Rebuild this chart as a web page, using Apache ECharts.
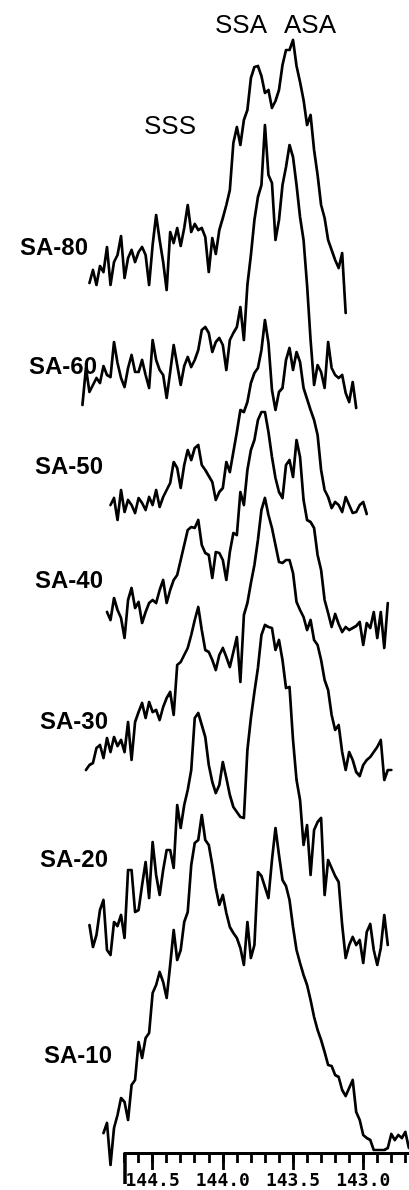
<!DOCTYPE html>
<html>
<head>
<meta charset="utf-8">
<title>13C NMR methyl region, SA series</title>
<script src="https://cdn.jsdelivr.net/npm/echarts/dist/echarts.min.js"></script>
<style>
  html, body { margin: 0; padding: 0; background: #fff; }
  #chart { width: 409px; height: 1190px; }
</style>
</head>
<body>
<div id="chart"></div>
<script>
// Chemical-shift sampling grid (ppm), shared by every spectrum
const PPM = [
  145.000,144.975,144.950,144.925,144.900,144.875,144.850,144.825,144.800,144.775,
  144.750,144.725,144.700,144.675,144.650,144.625,144.600,144.575,144.550,144.525,
  144.500,144.475,144.450,144.425,144.400,144.375,144.350,144.325,144.300,144.275,
  144.250,144.225,144.200,144.175,144.150,144.125,144.100,144.075,144.050,144.025,
  144.000,143.975,143.950,143.925,143.900,143.875,143.850,143.825,143.800,143.775,
  143.750,143.725,143.700,143.675,143.650,143.625,143.600,143.575,143.550,143.525,
  143.500,143.475,143.450,143.425,143.400,143.375,143.350,143.325,143.300,143.275,
  143.250,143.225,143.200,143.175,143.150,143.125,143.100,143.075,143.050,143.025,
  143.000,142.975,142.950,142.925,142.900,142.875,142.850,142.825,142.800,142.775,
  142.750,142.725,142.700,142.675,142.650
];

// Sample names, top to bottom
const SAMPLES = ['SA-80', 'SA-60', 'SA-50', 'SA-40', 'SA-30', 'SA-20', 'SA-10'];

// Index into PPM where each recorded spectrum begins
const START = [2, 0, 8, 7, 1, 2, 6];

// Intensities (arbitrary units, relative to each spectrum's own baseline)
const SA80 = [
  7,20,5,24,18,43,5,28,35,54,
  12,32,40,28,38,43,35,5,45,75,
  50,28,0,58,47,62,44,62,85,58,
  66,60,62,53,18,52,36,60,72,85,
  100,147,163,145,170,180,212,223,224,214,
  197,200,182,189,200,225,240,240,250,224,
  208,190,165,175,140,115,85,72,50,40,
  30,22,37,-23
];
const SA60 = [
  -20,17,-7,0,7,2,19,10,8,43,
  22,7,-2,17,30,13,13,25,10,-3,
  45,25,15,10,-13,13,40,20,0,19,
  28,18,25,35,55,58,52,33,43,47,
  40,15,45,52,58,78,45,100,130,165,
  188,200,260,210,202,145,165,200,218,240,
  228,200,168,145,100,45,0,20,13,-3,
  43,17,10,7,10,-8,-17,3,-23
];
const SA50 = [
  7,14,-8,22,0,12,7,-1,14,9,
  2,15,7,22,5,15,22,29,50,44,
  24,47,62,52,64,67,47,42,36,30,
  12,20,24,50,40,60,80,102,100,110,
  129,139,144,162,192,169,122,102,120,124,
  152,164,142,160,150,124,113,102,92,77,
  42,22,15,4,10,7,0,15,7,-1,
  0,7,10,-2
];
const SA40 = [
  13,5,27,15,7,-13,25,37,17,23,
  2,13,22,25,22,35,45,22,35,45,
  50,65,80,95,98,97,105,80,72,70,
  47,73,72,65,45,73,92,90,133,120,
  155,175,185,205,213,213,193,168,147,133,
  127,160,165,148,185,168,125,105,103,97,
  70,55,25,12,-2,11,1,-7,-2,-5,
  -3,-1,3,-20,2,-3,13,-13,13,-23,
  22
];
const SA30 = [
  -5,0,2,17,20,7,27,13,28,19,
  25,13,43,5,43,53,62,47,63,53,
  55,45,58,67,73,50,100,103,110,117,
  130,145,158,135,115,113,105,95,110,117,
  108,98,113,128,83,150,162,182,200,225,
  255,267,250,237,220,203,202,205,205,192,
  163,155,148,135,145,125,120,105,85,75,
  50,35,40,13,-5,13,5,-7,-11,0,
  5,8,13,18,25,-15,-5,-5
];
const SA20 = [
  15,-7,5,30,40,-10,-15,18,14,25,
  2,70,70,28,30,55,78,42,98,65,
  45,70,90,90,72,135,112,135,150,170,
  222,227,215,203,175,158,147,155,178,162,
  145,133,128,123,122,190,222,248,272,305,
  315,313,312,290,300,280,252,253,200,160,
  140,95,115,65,110,118,122,45,80,72,
  64,58,15,-18,-5,3,-5,0,-23,8,
  16,-10,-25,-8,25,-5
];
const SA10 = [
  12,22,-20,17,30,47,43,25,60,65,
  103,87,107,112,152,160,173,163,147,180,
  215,185,195,223,233,280,302,305,330,305,
  300,280,257,240,250,232,218,212,207,197,
  180,223,187,200,273,269,258,247,285,317,
  290,265,259,245,218,195,182,170,160,145,
  128,115,105,93,80,79,70,68,55,49,
  57,65,33,25,10,7,5,-5,-5,-5,
  -5,-3,11,5,10,7,13,-3
];

// Ruler: minor graduations every 0.1 ppm, numbered every 0.5 ppm
const MINOR_TICKS = [144.7,144.6,144.5,144.4,144.3,144.2,144.1,144.0,143.9,143.8,143.7,
                     143.6,143.5,143.4,143.3,143.2,143.1,143.0,142.9,142.8,142.7];
const TICK_VALUES = [144.5, 144.0, 143.5, 143.0];
const TICK_LABELS = ['144.5', '144.0', '143.5', '143.0'];
const RULER_END = [144.7];
const PEAK_LABELS = ['SSS', 'SSA', 'ASA'];

// ---- layout (stack offsets, label placement, shared ppm scale) ----
const TRACES = [SA80, SA60, SA50, SA40, SA30, SA20, SA10];
const STACK_OFFSET = [863, 768, 641, 528, 388, 213, 8];
const SAMPLE_LABEL_POS = [[88, 248], [97, 367], [103, 467], [103, 581], [108, 722], [108, 860], [112, 1056]];
const PEAK_LABEL_POS = [[170, 127], [241, 26], [310, 26]];
const W = 409, PX_PER_PPM = 140.4;
const X_RIGHT = 142.674;          // shift at the right edge of the page
const RULER_LEFT = 144.7;         // where the printed ruler starts
const TRACE_LEFT = 145.05;        // spectra start a little left of the ruler

const chart = echarts.init(document.getElementById('chart'), null, { renderer: 'canvas' });

const series = TRACES.map((vals, t) => ({
  name: SAMPLES[t],
  type: 'line',
  xAxisIndex: 0,
  yAxisIndex: 0,
  data: vals.map((v, k) => [PPM[START[t] + k], STACK_OFFSET[t] + v]),
  showSymbol: false,
  symbol: 'none',
  clip: false,
  silent: true,
  animation: false,
  lineStyle: { color: '#000', width: 2.7, join: 'round', cap: 'round' }
}));

const graphics = [];
SAMPLES.forEach((name, t) => {
  graphics.push({
    type: 'text',
    x: SAMPLE_LABEL_POS[t][0],
    y: SAMPLE_LABEL_POS[t][1],
    style: {
      text: name,
      fill: '#000',
      font: 'bold 24px "Liberation Sans", Arial, sans-serif',
      textAlign: 'right',
      textVerticalAlign: 'middle'
    }
  });
});
PEAK_LABELS.forEach((name, k) => {
  graphics.push({
    type: 'text',
    x: PEAK_LABEL_POS[k][0],
    y: PEAK_LABEL_POS[k][1],
    style: {
      text: name,
      fill: '#000',
      font: '26px "Liberation Sans", Arial, sans-serif',
      textAlign: 'center',
      textVerticalAlign: 'middle'
    }
  });
});

const rulerAxis = {
  type: 'value',
  gridIndex: 1,
  inverse: true,
  min: X_RIGHT,
  max: RULER_LEFT,
  position: 'bottom',
  splitLine: { show: false }
};

chart.setOption({
  backgroundColor: '#fff',
  animation: false,
  grid: [
    // spectra
    { left: W - (TRACE_LEFT - X_RIGHT) * PX_PER_PPM, right: 0, top: 0, bottom: 37, containLabel: false },
    // ruler
    { left: W - (RULER_LEFT - X_RIGHT) * PX_PER_PPM, right: 0, top: 0, bottom: 37, containLabel: false }
  ],
  xAxis: [
    { type: 'value', gridIndex: 0, inverse: true, min: X_RIGHT, max: TRACE_LEFT, show: false },
    Object.assign({}, rulerAxis, {
      axisLine: { show: true, onZero: false, lineStyle: { color: '#000', width: 2.8 } },
      axisTick: { show: true, customValues: MINOR_TICKS, length: 10, lineStyle: { color: '#000', width: 2.8 } },
      axisLabel: { show: false }
    }),
    Object.assign({}, rulerAxis, {
      axisLine: { show: false, onZero: false },
      axisTick: { show: true, customValues: TICK_VALUES, length: 17, lineStyle: { color: '#000', width: 2.8 } },
      axisLabel: {
        show: true,
        customValues: TICK_VALUES,
        formatter: v => TICK_LABELS[TICK_VALUES.findIndex(t => Math.abs(t - v) < 1e-6)] || '',
        margin: 19,
        color: '#000',
        fontFamily: '"DejaVu Sans Mono", monospace',
        fontWeight: 'bold',
        fontSize: 18
      }
    }),
    Object.assign({}, rulerAxis, {
      axisLine: { show: false, onZero: false },
      axisTick: { show: true, customValues: RULER_END, length: 31, lineStyle: { color: '#000', width: 3.5 } },
      axisLabel: { show: false }
    })
  ],
  yAxis: [
    { type: 'value', gridIndex: 0, min: 0, max: 1153, show: false },
    { type: 'value', gridIndex: 1, min: 0, max: 1153, show: false }
  ],
  graphic: graphics,
  series: series
});
</script>
</body>
</html>
